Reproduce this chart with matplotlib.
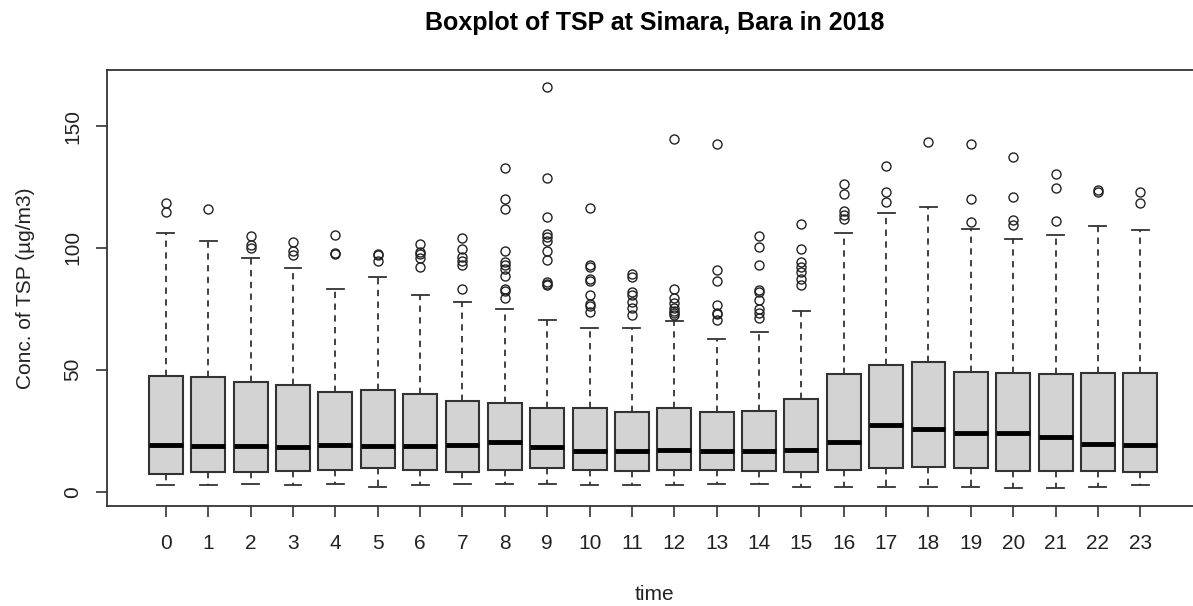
import numpy as np
import matplotlib.pyplot as plt

# summary stats, one entry per hour
hours = list(range(24))

whislo = [2.6, 2.6, 3.2, 2.6, 3.2, 2.1, 2.6, 3.2, 3.2, 3.2, 2.6, 2.6,
          2.6, 3.2, 3.2, 2.1, 2.1, 2.1, 2.1, 2.1, 1.5, 1.5, 2.1, 2.6]
q1 = [7.4, 8.0, 8.0, 8.5, 9.0, 9.6, 9.0, 8.0, 9.0, 9.6, 9.0, 8.5,
      9.0, 9.0, 8.5, 8.0, 9.0, 9.6, 10.1, 9.6, 8.5, 8.5, 8.5, 8.0]
med = [19.2, 18.7, 18.7, 18.2, 19.2, 18.7, 18.7, 19.2, 20.3, 18.2, 16.6, 16.6,
       17.1, 16.6, 16.6, 17.1, 20.3, 27.2, 25.6, 24.1, 24.1, 22.4, 19.7, 19.2]
q3 = [47.6, 47.0, 44.9, 43.9, 41.0, 41.6, 40.1, 37.3, 36.4, 34.2, 34.2, 32.6,
      34.2, 32.6, 33.1, 37.9, 48.2, 51.8, 53.3, 49.1, 48.6, 48.2, 48.6, 48.6]
whishi = [106.1, 103.0, 96.0, 91.8, 83.1, 88.1, 80.5, 77.9, 74.8, 70.6, 67.3, 67.3,
          70.0, 62.5, 65.6, 74.2, 106.1, 114.2, 116.9, 107.8, 103.5, 105.2, 109.0, 107.3]

fliers = [
    [118.3, 114.9],
    [115.8],
    [104.8, 101.2, 100.1],
    [102.4, 98.9, 97.0],
    [105.2, 98.0, 97.6],
    [97.6, 97.0, 94.6],
    [101.6, 98.5, 97.5, 95.7, 92.3],
    [104.2, 99.4, 96.1, 94.7, 93.0, 83.3],
    [132.9, 120.2, 116.0, 98.7, 94.1, 92.8, 91.5, 88.5, 83.1, 82.4, 79.3],
    [166.1, 128.7, 112.7, 105.8, 104.6, 103.0, 98.7, 95.0, 85.9, 85.2, 84.6],
    [116.5, 93.0, 92.3, 87.1, 86.4, 80.7, 76.9, 76.2, 73.7],
    [89.3, 88.2, 81.8, 80.7, 77.7, 75.5, 72.5],
    [144.7, 83.1, 79.3, 77.3, 75.5, 74.2, 73.1, 72.5],
    [142.6, 90.8, 86.6, 76.5, 73.4, 72.8, 70.4],
    [104.8, 100.4, 93.0, 82.7, 82.0, 78.6, 75.1, 73.4, 71.1],
    [109.9, 99.7, 94.3, 92.3, 90.2, 87.2, 84.8],
    [126.1, 122.2, 115.1, 113.5, 112.0],
    [133.5, 122.8, 118.8],
    [143.6],
    [142.6, 120.2, 110.5],
    [137.2, 120.8, 111.6, 109.4],
    [130.2, 124.4, 111.0],
    [123.9, 122.8],
    [122.8, 118.5],
]

stats = []
for i in range(len(hours)):
    stats.append(dict(whislo=whislo[i], q1=q1[i], med=med[i], q3=q3[i],
                      whishi=whishi[i], fliers=fliers[i]))

plt.rcParams['font.family'] = ['Liberation Sans', 'DejaVu Sans']

fig = plt.figure(figsize=(11.93, 6.06), dpi=100)
# plot region runs off the right edge, like the cropped original
ax = fig.add_axes([0.0897, 0.165, 0.918, 0.7195])

edge = '#333333'
ax.bxp(stats, positions=hours, widths=0.8, capwidths=0.4, patch_artist=True,
       boxprops=dict(facecolor='#d3d3d3', edgecolor=edge, linewidth=1.5),
       medianprops=dict(color='black', linewidth=3.5, solid_capstyle='butt'),
       whiskerprops=dict(color=edge, linestyle=(0, (3.5, 3)), linewidth=1.3),
       capprops=dict(color=edge, linewidth=1.3),
       flierprops=dict(marker='o', markerfacecolor='none', markeredgecolor='#222222',
                       markersize=6.5, markeredgewidth=1.0))

ax.set_xlim(-1.39, 24.46)
ax.set_ylim(-5.9, 173)
ax.set_xticks(hours)
ax.set_xticklabels([str(h) for h in hours])
ax.set_yticks([0, 50, 100, 150])
ax.set_yticklabels(['0', '50', '100', '150'], rotation=90, va='center')

for s in ax.spines.values():
    s.set_color(edge)
    s.set_linewidth(1.3)
ax.tick_params(axis='both', length=8, width=1.2, color=edge, labelsize=15, labelcolor='#222222')
ax.tick_params(axis='x', pad=12)
ax.tick_params(axis='y', pad=10)

ax.set_xlabel('time', fontsize=15, color='#222222', labelpad=23)
ax.set_ylabel('Conc. of TSP (µg/m3)', fontsize=15, color='#222222', labelpad=20)
ax.set_title('Boxplot of TSP at Simara, Bara in 2018', fontsize=18,
             fontweight='bold', pad=29)

fig.savefig('out.png', dpi=100)
